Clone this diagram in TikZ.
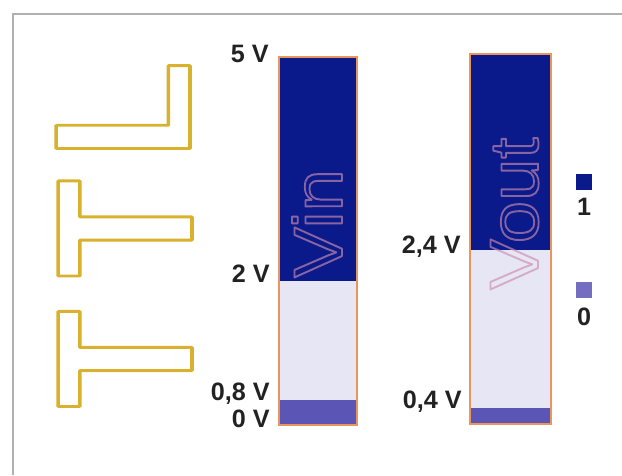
\documentclass[tikz,border=0pt]{standalone}
\usepackage{fontspec}
\setmainfont{Liberation Sans}
\usepackage{xcolor}
\usepackage{tikz}
\usetikzlibrary{positioning}
\definecolor{ttlBlue}{HTML}{0A1A8A}
\definecolor{lowPurple}{HTML}{5B55B5}
\definecolor{midLav}{HTML}{E6E6F5}
\definecolor{barEdge}{HTML}{E8955E}
\definecolor{ttlGold}{HTML}{D8B12E}
\definecolor{frameGray}{HTML}{B0B0B0}
\definecolor{nameLine}{HTML}{CE8CB0}
\definecolor{labelInk}{HTML}{222222}
% stroked (hollow) glyphs: #1 = line width in bp
\newcommand{\hollow}[2]{\special{pdf:literal direct #1 w 1 j 1 Tr}#2\special{pdf:literal direct 0 Tr 0 j}}

\begin{document}
\begin{tikzpicture}[x=0.03cm,y=-0.03cm,
  volt/.style={font=\fontsize{21.5}{21.5}\selectfont\bfseries,text=labelInk,inner sep=0pt,anchor=base east},
  keytxt/.style={font=\fontsize{21.5}{21.5}\selectfont\bfseries,text=labelInk,inner sep=0pt,anchor=base},
  ttl/.style={font=\fontsize{166}{166}\selectfont\bfseries,text=ttlGold,inner sep=0pt,rotate=90,anchor=base},
  vname/.style={font=\fontsize{59}{59}\selectfont,text=nameLine,inner sep=0pt,rotate=90,anchor=base west},
  keybox/.style={minimum size=0.47cm,inner sep=0pt}]
\useasboundingbox (0,0) rectangle (622,475);
% photo frame
\draw[frameGray,line width=1.3pt] (13,475) -- (13,14) -- (622,14);
% TTL
\node[ttl] (ttlA) at (192,359) {\scalebox{0.83}[1]{\hollow{3}{T}}};
\node[ttl] (ttlB) at (192,228.5) {\scalebox{0.83}[1]{\hollow{3}{T}}};
\node[ttl] (ttlC) at (190,110) {\scalebox{0.83}[1]{\hollow{3}{L}}};
% Vin bar
\fill[lowPurple] (279,400) rectangle (357,425);
\fill[midLav] (279,281) rectangle (357,400);
\fill[ttlBlue] (279,57) rectangle (357,281);
% Vout bar
\fill[lowPurple] (470,408) rectangle (551,424);
\fill[midLav] (470,250) rectangle (551,408);
\fill[ttlBlue] (470,54) rectangle (551,250);
\begin{scope}[draw opacity=0.65]
\node[vname] (vin) at (342,278) {\scalebox{1.1}[1]{\hollow{1.5}{Vin}}};
\node[vname] (vout) at (538,290) {\scalebox{1.1}[1]{\hollow{1.5}{Vout}}};
\end{scope}
\draw[barEdge,line width=1.3pt] (279,57) rectangle (357,425);
\draw[barEdge,line width=1.3pt] (470,54) rectangle (551,424);
% levels
\node[volt] (v5) at (269,62) {5 V};
\node[volt] (v2) at (270,282) {2 V};
\node[volt] (v08) at (270,400) {0,8 V};
\node[volt] (v0) at (270,427) {0 V};
\node[volt] (v24) at (461,253) {2,4 V};
\node[volt] (v04) at (462,408) {0,4 V};
% key
\node[keybox,fill=ttlBlue] (key1) at (584,182) {};
\node[keytxt] (one) at (584,215) {1};
\node[keybox,fill=lowPurple!85!white] (key0) at (584,290) {};
\node[keytxt] (zero) at (584,325) {0};
\end{tikzpicture}
\end{document}
